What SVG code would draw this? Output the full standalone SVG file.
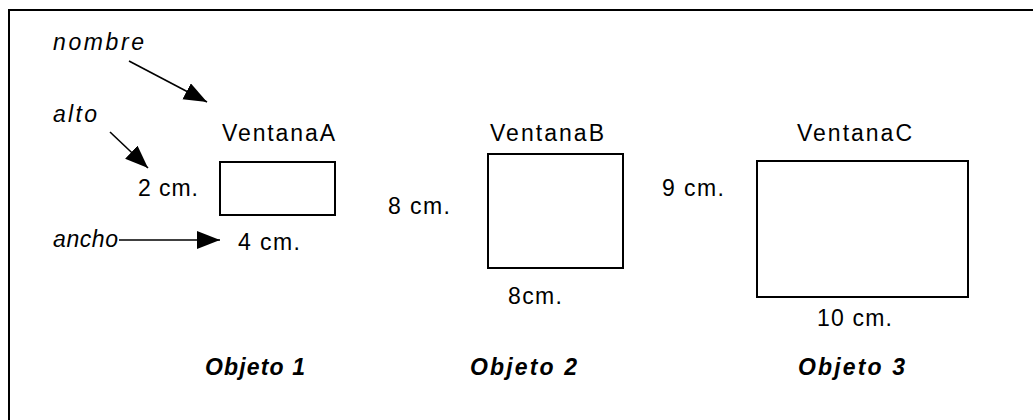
<svg xmlns="http://www.w3.org/2000/svg" width="1033" height="420" viewBox="0 0 1033 420">
<style>
text{font-family:"Liberation Sans",Arial,sans-serif;font-size:23px;fill:#000}
.it{font-style:italic}
.bi{font-style:italic;font-weight:bold}
.box{fill:#fff;stroke:#000;stroke-width:2}
.conn{stroke:#000;stroke-width:1.6;fill:none}
</style>
<defs>
<marker id="ah" markerUnits="userSpaceOnUse" markerWidth="26" markerHeight="20" refX="23" refY="9" orient="auto">
<path d="M0,0 L23,9 L0,18 z" fill="#000"/>
</marker>
</defs>
<rect x="9" y="10" width="1100" height="500" fill="#fff" stroke="#000" stroke-width="2"/>
<g id="labels">
<text class="it" x="53" y="50" textLength="91" lengthAdjust="spacing">nombre</text>
<text class="it" x="53" y="122" textLength="44" lengthAdjust="spacing">alto</text>
<text class="it" x="53" y="247" textLength="65" lengthAdjust="spacing">ancho</text>
</g>
<g id="connectors">
<line class="conn" x1="129" y1="61" x2="207" y2="102" marker-end="url(#ah)"/>
<line class="conn" x1="110" y1="132" x2="148" y2="168" marker-end="url(#ah)"/>
<line class="conn" x1="119" y1="240" x2="220" y2="240" marker-end="url(#ah)"/>
</g>
<g id="ventanaA">
<text x="222" y="141" textLength="113" lengthAdjust="spacing">VentanaA</text>
<rect class="box" x="220" y="162" width="115" height="53"/>
<text x="138" y="196" textLength="60" lengthAdjust="spacing">2 cm.</text>
<text x="238" y="250" textLength="62" lengthAdjust="spacing">4 cm.</text>
<text class="bi" x="205" y="375" textLength="100" lengthAdjust="spacing">Objeto 1</text>
</g>
<g id="ventanaB">
<text x="490" y="141" textLength="114" lengthAdjust="spacing">VentanaB</text>
<rect class="box" x="488" y="154" width="135" height="114"/>
<text x="388" y="214" textLength="62" lengthAdjust="spacing">8 cm.</text>
<text x="508" y="304" textLength="54" lengthAdjust="spacing">8cm.</text>
<text class="bi" x="470" y="375" textLength="107" lengthAdjust="spacing">Objeto 2</text>
</g>
<g id="ventanaC">
<text x="797" y="141" textLength="115" lengthAdjust="spacing">VentanaC</text>
<rect class="box" x="757" y="161" width="211" height="136"/>
<text x="662" y="196" textLength="62" lengthAdjust="spacing">9 cm.</text>
<text x="817" y="326" textLength="75" lengthAdjust="spacing">10 cm.</text>
<text class="bi" x="798" y="375" textLength="107" lengthAdjust="spacing">Objeto 3</text>
</g>
</svg>
